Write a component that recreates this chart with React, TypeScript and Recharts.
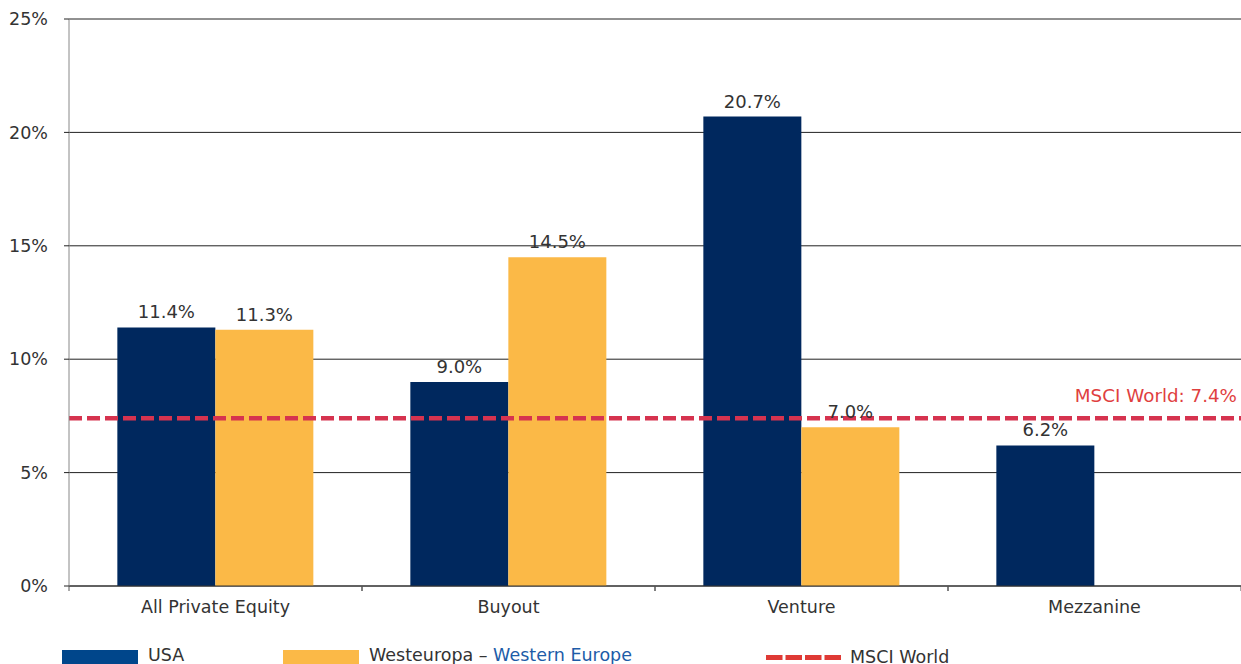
import React from 'react';
import { BarChart, Bar, XAxis, YAxis, CartesianGrid, ReferenceLine, LabelList } from 'recharts';

const categories = ['All Private Equity', 'Buyout', 'Venture', 'Mezzanine'];
const usaValues: (number | null)[] = [11.4, 9.0, 20.7, 6.2];
const westernEuropeValues: (number | null)[] = [11.3, 14.5, 7.0, null];
const yTicks = [0, 5, 10, 15, 20, 25];
const msciWorld = 7.4;
const msciLabel = 'MSCI World: 7.4%';

const data = categories.map((c, i) => ({ category: c, usa: usaValues[i], we: westernEuropeValues[i] }));

const FONT = '"DejaVu Sans", Verdana, sans-serif';
const NAVY = '#00285e';
const ORANGE = '#fbb947';
const RED_LINE = '#d6334f';
const RED_TEXT = '#df3f3f';
const TEXT = '#333333';

const XTick = (props: any) => {
  const { x, y, payload } = props;
  const half = payload && payload.offset != null ? payload.offset : 146.5;
  return (
    <g>
      <line x1={x - half} x2={x - half} y1={y} y2={y + 5} stroke="#555" />
      <line x1={x + half} x2={x + half} y1={y} y2={y + 5} stroke="#555" />
      <text x={x} y={y + 27} textAnchor="middle" fill={TEXT} fontSize={17.5} fontFamily={FONT}>
        {payload.value}
      </text>
    </g>
  );
};

const MsciLabel = (props: any) => {
  const vb = props.viewBox || {};
  return (
    <text x={vb.x + vb.width - 4} y={vb.y - 16} textAnchor="end" fill={RED_TEXT} fontSize={18.3} fontFamily={FONT}>
      {msciLabel}
    </text>
  );
};

const fmt = (v: any) => (v == null ? '' : `${Number(v).toFixed(1)}%`);

export default function App() {
  return (
    <div style={{ position: 'absolute', left: 0, top: 0, width: 1241, height: 664, background: '#fff', fontFamily: FONT }}>
      <BarChart
        width={1241}
        height={664}
        data={data}
        margin={{ top: 19, right: 0, left: 0, bottom: 38 }}
        barCategoryGap="16.5%"
        barGap={0}
      >
        <CartesianGrid vertical={false} stroke="#222" />
        <XAxis
          dataKey="category"
          height={40}
          interval={0}
          tickLine={false}
          tickSize={0}
          tickMargin={0}
          axisLine={{ stroke: '#333' }}
          tick={<XTick />}
        />
        <YAxis
          width={69}
          domain={[0, 25]}
          ticks={yTicks}
          interval={0}
          tickFormatter={(v: number) => `${v}%`}
          axisLine={{ stroke: '#888' }}
          tickLine={{ stroke: '#222' }}
          tickSize={5}
          tickMargin={16}
          tick={{ fill: TEXT, fontSize: 17.5, fontFamily: FONT }}
        />
        <Bar dataKey="usa" fill={NAVY} isAnimationActive={false}>
          <LabelList dataKey="usa" position="top" offset={9} formatter={fmt} fill={TEXT} fontSize={18} fontFamily={FONT} />
        </Bar>
        <Bar dataKey="we" fill={ORANGE} isAnimationActive={false}>
          <LabelList dataKey="we" position="top" offset={9} formatter={fmt} fill={TEXT} fontSize={18} fontFamily={FONT} />
        </Bar>
        <ReferenceLine y={msciWorld} stroke={RED_LINE} strokeWidth={4.5} strokeDasharray="13 5" label={<MsciLabel />} />
      </BarChart>
      <svg width={1241} height={30} style={{ position: 'absolute', left: 0, top: 634 }}>
        <rect x={62} y={16} width={76} height={14} fill="#00468b" />
        <text x={148} y={27} fontSize={17.5} fill={TEXT} fontFamily={FONT}>USA</text>
        <rect x={283} y={16} width={76} height={14} fill={ORANGE} />
        <text x={369} y={27} fontSize={17.5} fontFamily={FONT}>
          <tspan fill={TEXT}>Westeuropa – </tspan>
          <tspan fill="#1d5ca8">Western Europe</tspan>
        </text>
        <line x1={766} x2={842} y1={23.5} y2={23.5} stroke="#df3a35" strokeWidth={5} strokeDasharray="16.5 3" />
        <text x={850} y={29} fontSize={17.5} fill={TEXT} fontFamily={FONT}>MSCI World</text>
      </svg>
    </div>
  );
}
